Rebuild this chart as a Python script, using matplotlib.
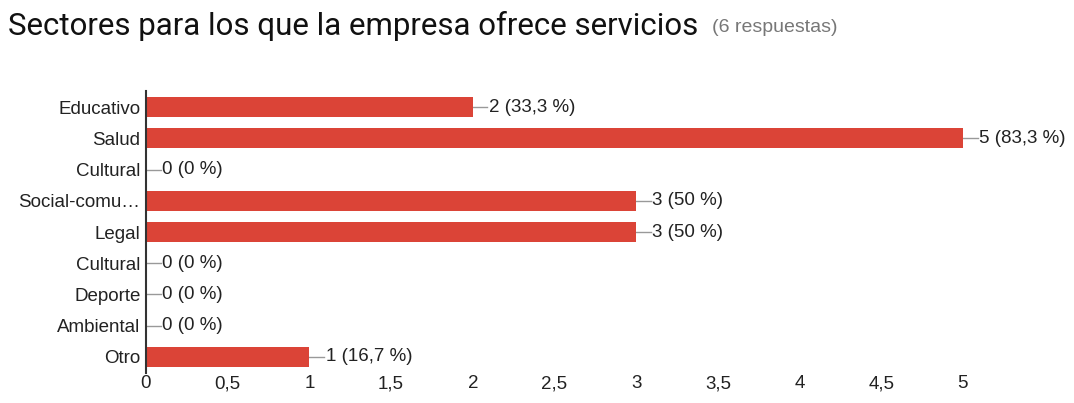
import numpy as np
import matplotlib.pyplot as plt

plt.rcParams['font.family'] = ['Liberation Sans', 'DejaVu Sans']

# respuestas por sector
sectores = ["Educativo", "Salud", "Cultural", "Social-comu…", "Legal",
            "Cultural", "Deporte", "Ambiental", "Otro"]
respuestas = [2, 5, 0, 3, 3, 0, 0, 0, 1]
porcentajes = ["33,3", "83,3", "0", "50", "50", "0", "0", "0", "16,7"]
xticks = [0, 0.5, 1, 1.5, 2, 2.5, 3, 3.5, 4, 4.5, 5]
xtick_labels = ["0", "0,5", "1", "1,5", "2", "2,5", "3", "3,5", "4", "4,5", "5"]

rojo = "#db4437"
gris = "#222222"

fig = plt.figure(figsize=(10.74, 4.03), dpi=100)
ax = fig.add_axes([0.1359, 0.0754, 0.7607, 0.6978])

y = np.arange(len(sectores))
ax.barh(y, respuestas, height=0.64, color=rojo, zorder=2)

# etiquetas con linea guia
for yi, v, p in zip(y, respuestas, porcentajes):
    ax.plot([v, v + 0.09], [yi, yi], color="#999999", lw=1, zorder=1,
            clip_on=False)
    ax.text(v + 0.1, yi, f"{v} ({p} %)", va="center", ha="left",
            fontsize=13.5, color=gris)

ax.set_ylim(len(sectores) - 0.5, -0.5)
ax.set_xlim(0, 5)
ax.set_yticks(y)
ax.set_yticklabels(sectores, fontsize=13.5, color=gris)
ax.set_xticks(xticks)
ax.set_xticklabels(xtick_labels, fontsize=13.5, color=gris)
ax.tick_params(length=0, pad=4)
ax.tick_params(axis="x", pad=2)

for s in ["top", "right", "bottom"]:
    ax.spines[s].set_visible(False)
ax.spines["left"].set_color("#333333")
ax.spines["left"].set_linewidth(1.5)
ax.spines["left"].set_zorder(3)

fig.text(0.0075, 0.935, "Sectores para los que la empresa ofrece servicios",
         fontsize=22.5, color="#111111", va="center", ha="left",
         family="Roboto")
fig.text(0.663, 0.932, "(6 respuestas)", fontsize=14, color="#777777",
         va="center", ha="left")

fig.savefig("out.png", dpi=100)
